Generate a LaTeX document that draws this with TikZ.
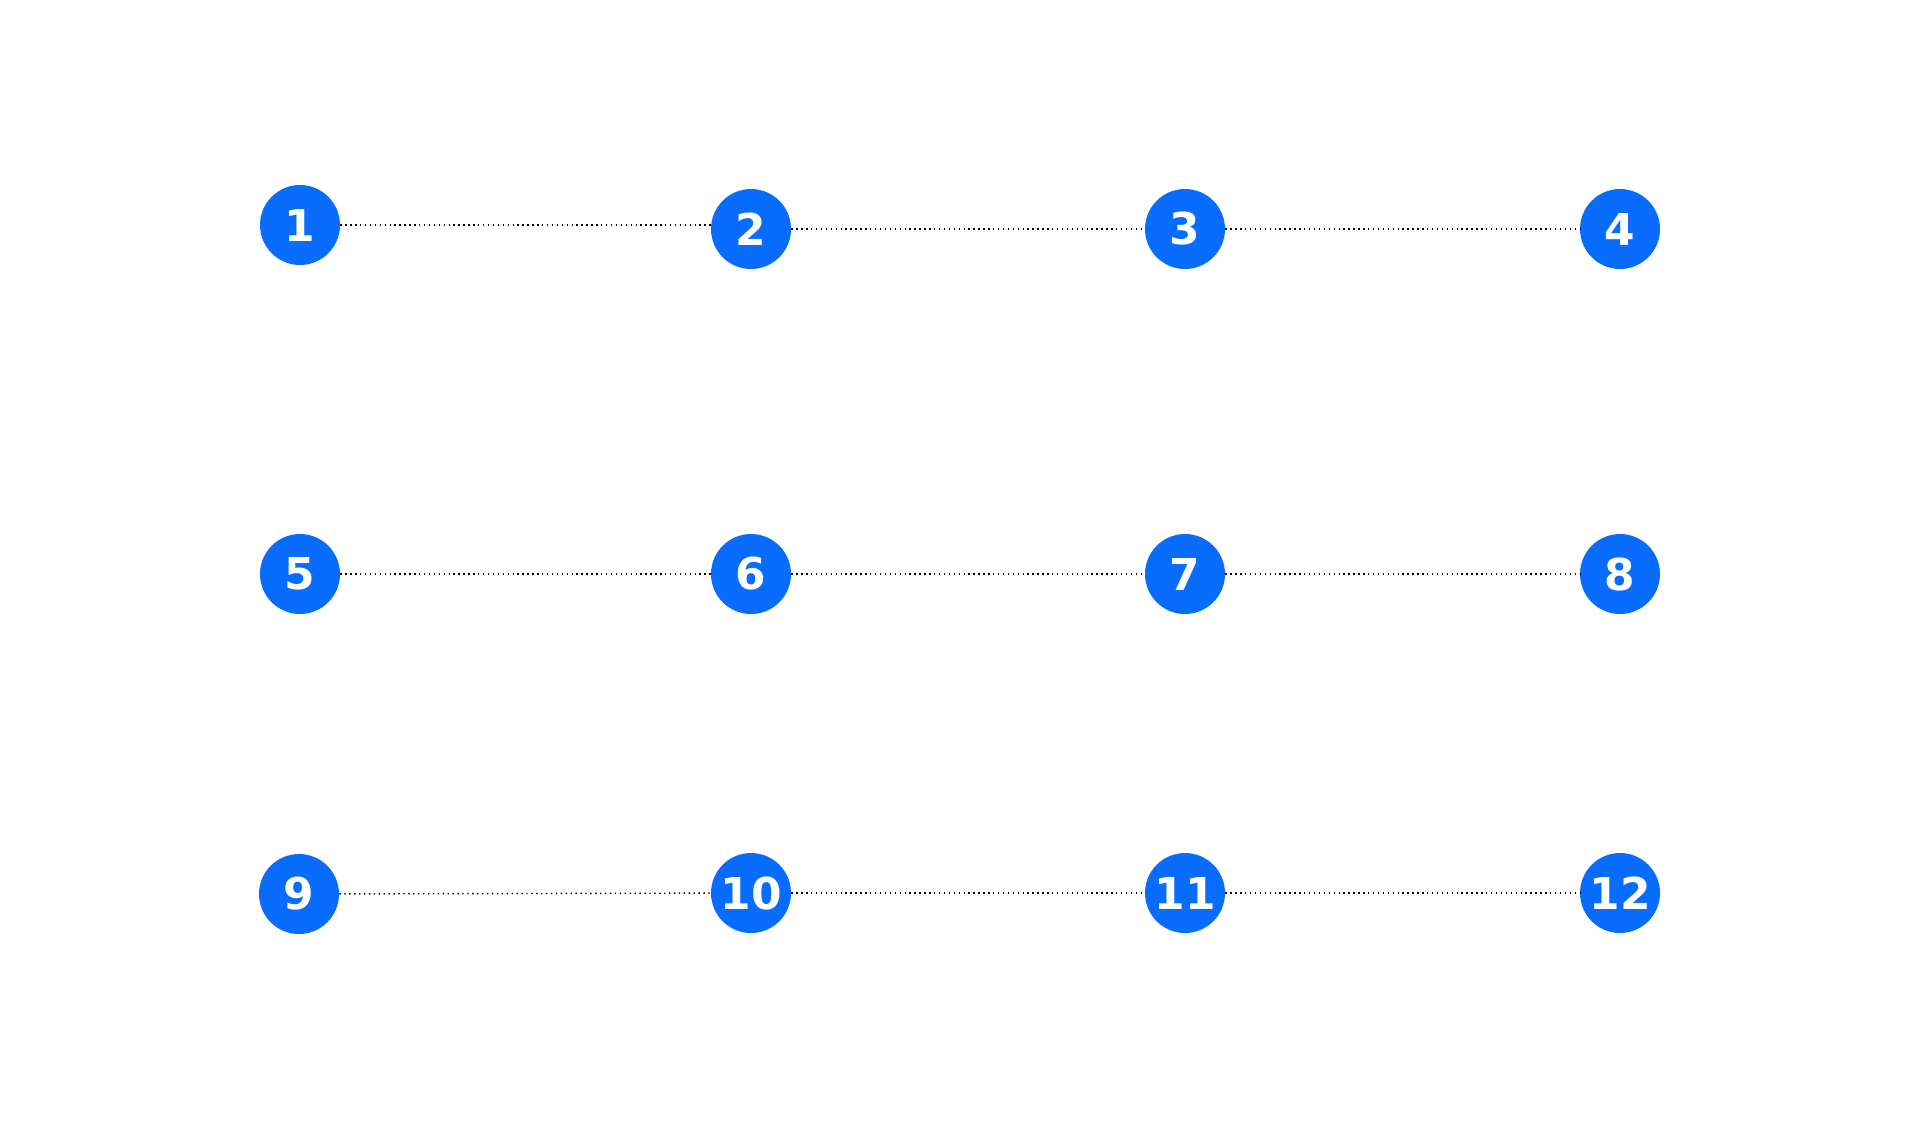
\documentclass[tikz,border=0pt]{standalone}
\usepackage{fontspec}
\setmainfont{DejaVu Sans}
\definecolor{knopfblau}{RGB}{8,108,255}
\tikzset{
    kreis/.style={circle, fill=knopfblau, text=white, minimum size=1.6cm, inner sep=0pt, font=\fontsize{25}{25}\selectfont\bfseries},
    punktlinie/.style={dotted, line width=0.8pt, black}
}

\begin{document}
\begin{tikzpicture}[x=0.02cm, y=-0.02cm]
    \useasboundingbox (0,0) rectangle (1920,1120);
    \path node[kreis] (N1) at (300,225) {1}
        node[kreis] (N2) at (751,229) {2}
        node[kreis] (N3) at (1185,229) {3}
        node[kreis] (N4) at (1620,229) {4}
        node[kreis] (N5) at (300,574) {5}
        node[kreis] (N6) at (751,574) {6}
        node[kreis] (N7) at (1185,574) {7}
        node[kreis] (N8) at (1620,574) {8}
        node[kreis] (N9) at (299,894) {9}
        node[kreis] (N10) at (751,893) {10}
        node[kreis] (N11) at (1185,893) {11}
        node[kreis] (N12) at (1620,893) {12};
    \draw[punktlinie] (N1) -- (N1 -| N2.west);
    \draw[punktlinie] (N2) -- (N3);
    \draw[punktlinie] (N3) -- (N4);
    \draw[punktlinie] (N5) -- (N6);
    \draw[punktlinie] (N6) -- (N7);
    \draw[punktlinie] (N7) -- (N8);
    \draw[punktlinie] (N9) -- (N10);
    \draw[punktlinie] (N10) -- (N11);
    \draw[punktlinie] (N11) -- (N12);
\end{tikzpicture}
\end{document}
